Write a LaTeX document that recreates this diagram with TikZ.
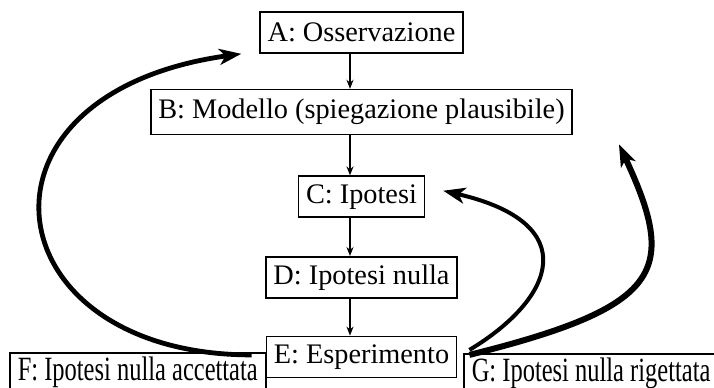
\documentclass[tikz,border=0pt]{standalone}
\usepackage{fontspec}
\setmainfont{Liberation Serif}
\newfontfamily\narrowserif[FakeStretch=0.72]{Liberation Serif}
\usetikzlibrary{arrows.meta, positioning}

\begin{document}
\begin{tikzpicture}[
    x=0.5pt, y=0.5pt,
    box/.style      = {rectangle, draw=black, line width=0.8pt,
                       inner xsep=3.75pt, inner ysep=3.5pt, minimum height=20.5pt,
                       font=\fontsize{14.15}{17}\selectfont, fill=white},
    outcome/.style  = {rectangle, draw=black, line width=0.8pt,
                       inner xsep=4pt, inner ysep=2pt, anchor=north west,
                       font=\narrowserif\fontsize{17}{20}\selectfont, fill=white},
    flow/.style     = {-{Stealth[length=4.5pt, width=3.5pt]}, line width=0.75pt},
    feedback/.style = {-{Stealth[length=11pt, width=8pt, inset=3pt]}, line width=2.4pt}
]
\useasboundingbox (0,0) rectangle (714,-387);
\clip (0,0) rectangle (714,-387);

%% -- Main chain ---------------------------------------------
\node[box] (obs) at (361.5,-32.5) {A: Osservazione};
\node[box, minimum height=22.5pt, below=17.5pt of obs] (model) {B: Modello (spiegazione plausibile)};
\node[box, below=20pt of model]   (hyp)     {C: Ipotesi};
\node[box, below=19pt of hyp]     (nullhyp) {D: Ipotesi nulla};
\node[box, below=18.5pt of nullhyp] (exper) {E: Esperimento};

%% -- Outcomes -----------------------------------------------
\node[outcome] (accepted) at (9,-352)   {F: Ipotesi nulla accettata};
\node[outcome] (rejected) at (463,-353) {G: Ipotesi nulla rigettata};

%% -- Arrows: chain ------------------------------------------
\coordinate (spine) at (350,0);
\foreach \from/\to in {obs/model, model/hyp, hyp/nullhyp, nullhyp/exper}
  \draw[flow] (\from.south -| spine) -- (\to.north -| spine);

%% -- Arrows: feedback ---------------------------------------
\draw[feedback] ([shift={(-7pt,1pt)}]exper.west)
  .. controls +(-260,0) and +(-287,-40) .. ([xshift=-9pt]obs.south west);
\draw[feedback, line width=2pt] ([shift={(6pt,3.5pt)}]exper.east)
  .. controls +(85.7,51.5) and +(141,-32.6) .. ([shift={(9pt,3pt)}]hyp.east);
\draw[feedback, line width=3pt] ([shift={(6pt,1pt)}]exper.east)
  .. controls +(194,48.4) and +(59.2,-126.8) .. ([shift={(23pt,-4.5pt)}]model.south east);

\end{tikzpicture}
\end{document}
